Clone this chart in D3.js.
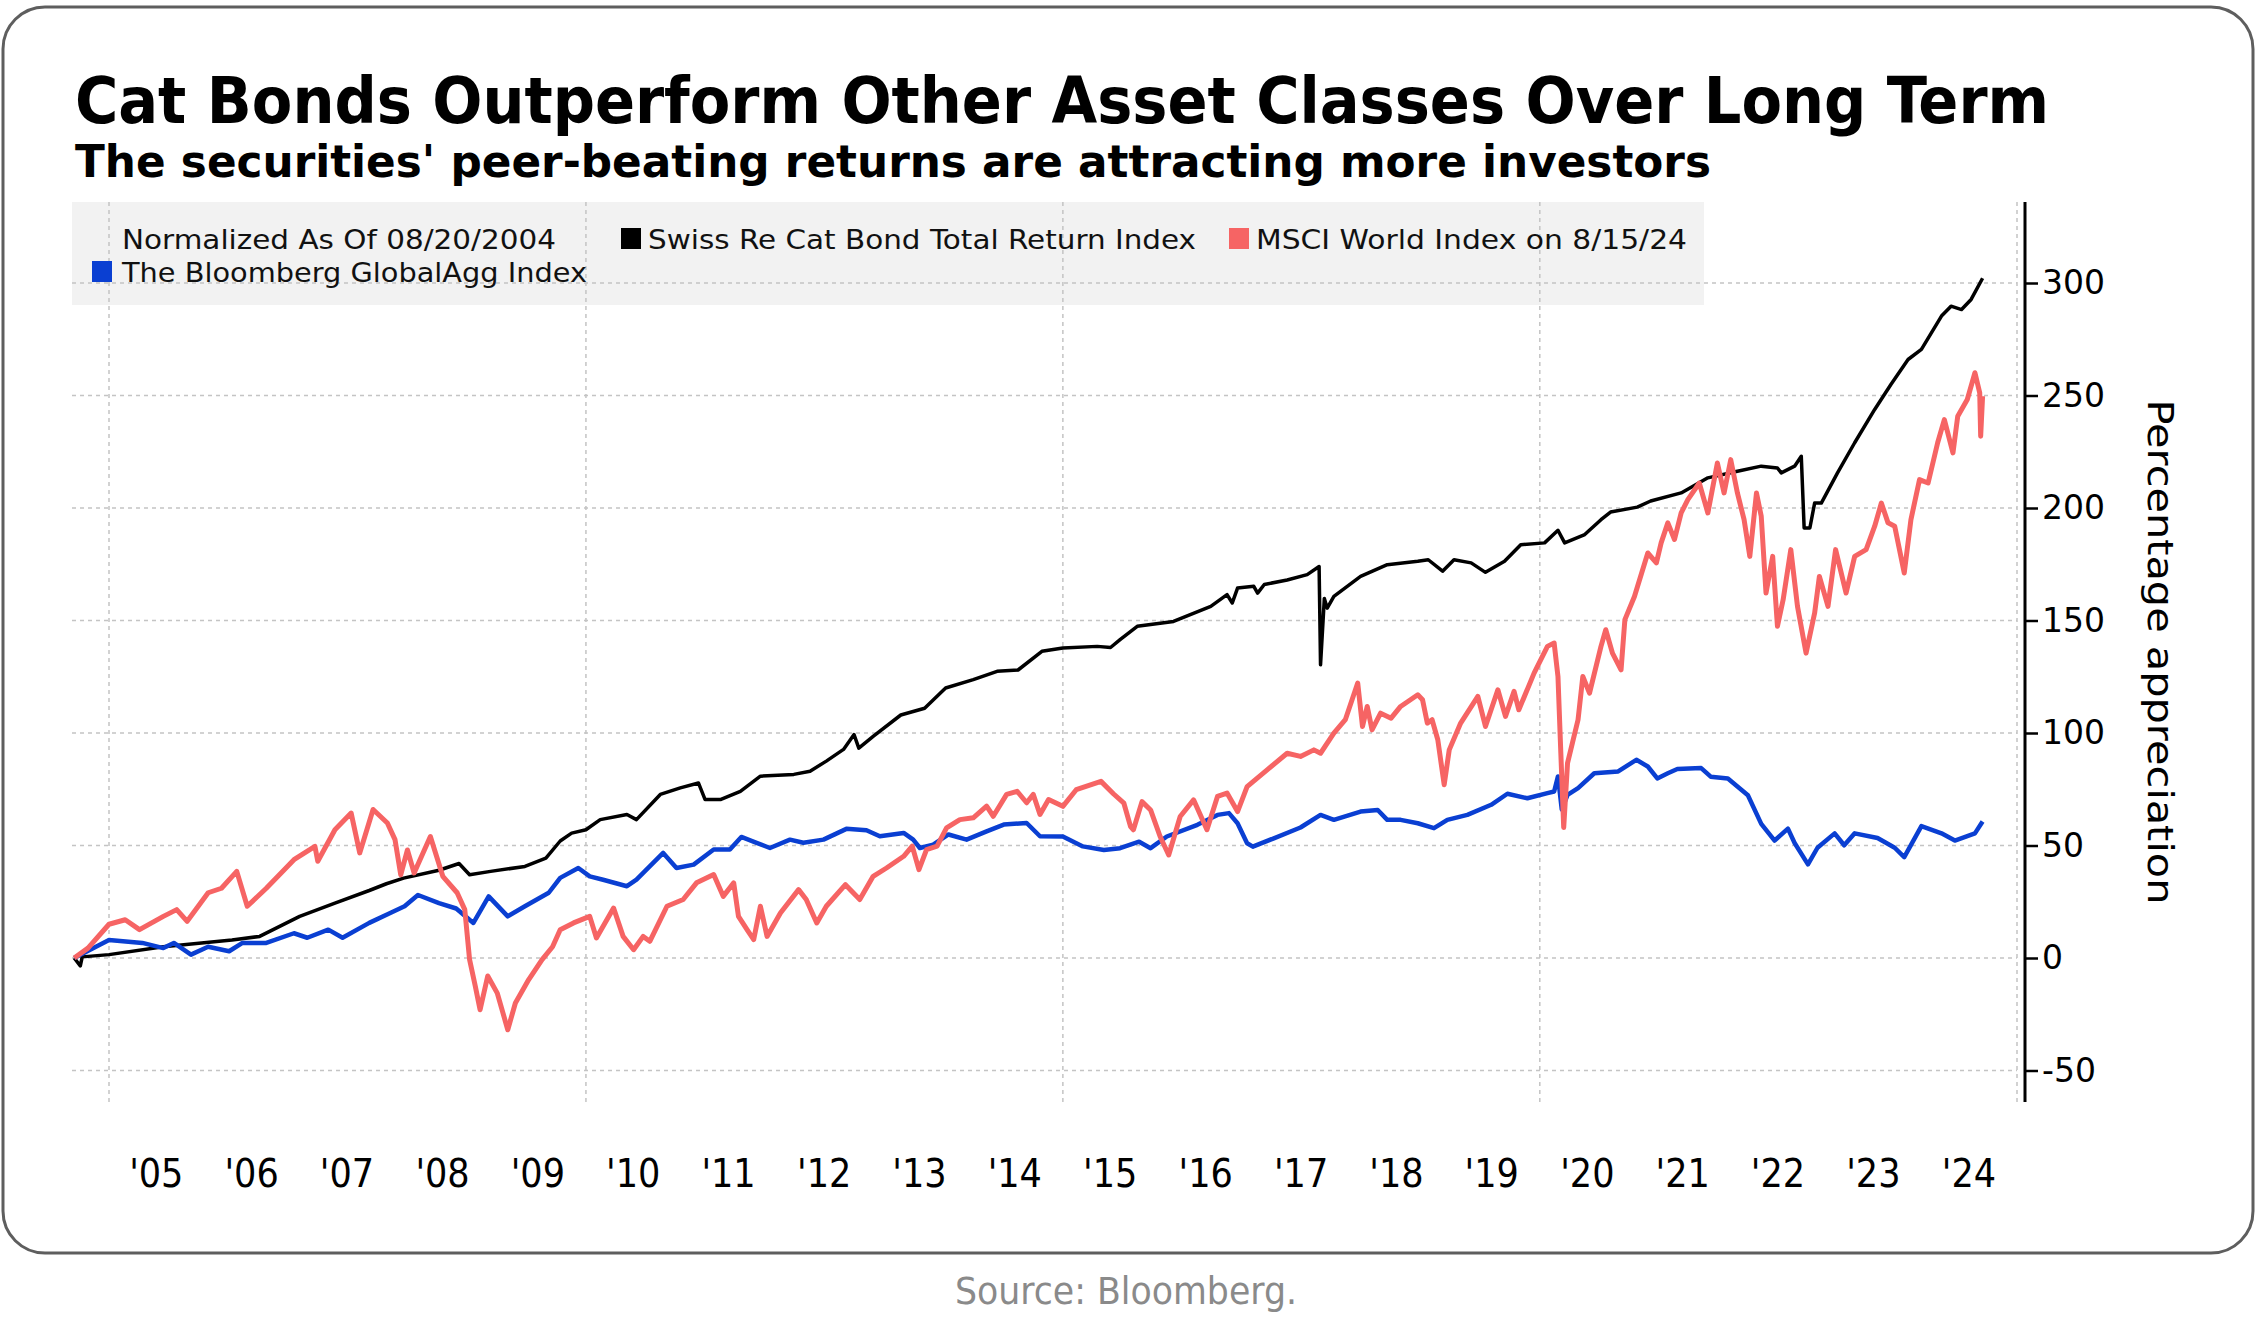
<!DOCTYPE html>
<html><head><meta charset="utf-8">
<script src="https://cdn.jsdelivr.net/npm/d3@7"></script>
<style>html,body{margin:0;padding:0;background:#fff;} svg{display:block;}</style>
</head><body>
<svg id="chart" width="2259" height="1342"></svg>
<script>
// ---------- DATA (decimal years, percentage appreciation) ----------
const swissReDates = [2004.636,2004.70,2004.72,2005.0,2005.57,2006.29,2006.58,2007.0,2007.37,2007.73,2007.91,2008.09,2008.46,2008.67,2008.78,2009.0,2009.36,2009.58,2009.73,2009.85,2010.0,2010.15,2010.43,2010.53,2010.78,2010.99,2011.18,2011.25,2011.41,2011.62,2011.83,2012.18,2012.35,2012.52,2012.70,2012.81,2012.86,2013.01,2013.30,2013.55,2013.77,2014.06,2014.31,2014.53,2014.78,2015.0,2015.36,2015.50,2015.6,2015.78,2016.16,2016.55,2016.72,2016.775,2016.83,2017.0,2017.04,2017.11,2017.35,2017.56,2017.685,2017.70,2017.74,2017.77,2017.84,2018.12,2018.40,2018.72,2018.83,2018.98,2019.10,2019.28,2019.43,2019.63,2019.80,2020.05,2020.19,2020.26,2020.47,2020.64,2020.74,2021.02,2021.16,2021.48,2021.76,2022.07,2022.32,2022.49,2022.53,2022.67,2022.74,2022.77,2022.83,2022.88,2022.95,2023.12,2023.30,2023.51,2023.68,2023.86,2024.0,2024.21,2024.31,2024.42,2024.52,2024.64];
const swissReValues = [0,-3.5,0.5,1.5,5,8,9.6,18.5,24.4,30,33,35.5,39,42,37,38.5,40.7,44.4,52,55.5,57,61.5,63.8,61.5,72.7,75.6,77.8,70.4,70.4,74.1,80.8,81.6,83,87.5,92.7,99.3,93.3,98.5,108,111,120,123.7,127.4,128,136.3,137.8,138.5,138,141.5,147.4,149.6,156.3,161.5,157.8,164.4,165.2,162.2,166,168,170.4,174,130.3,159.8,155.5,160.7,169.6,174.8,176.3,177,171.9,177,175.6,171.4,176.3,183.7,184.5,190.1,184.5,188.2,194.8,198.2,200.4,203.1,206.7,213.4,216.3,218.6,217.8,215.6,218.6,223,191.1,191.1,202.2,202.2,215.6,229,243.8,254.9,266,270.5,285.3,289.7,288.2,292.7,302.1];

const msciDates = [2004.636,2004.78,2005.0,2005.17,2005.32,2005.57,2005.71,2005.82,2006.04,2006.18,2006.34,2006.45,2006.65,2006.94,2007.16,2007.19,2007.37,2007.54,2007.63,2007.77,2007.92,2008.0,2008.06,2008.13,2008.2,2008.37,2008.5,2008.65,2008.73,2008.78,2008.84,2008.89,2008.97,2009.07,2009.18,2009.26,2009.40,2009.54,2009.65,2009.73,2009.87,2010.04,2010.11,2010.29,2010.39,2010.5,2010.6,2010.67,2010.85,2011.02,2011.16,2011.34,2011.44,2011.55,2011.6,2011.69,2011.76,2011.83,2011.9,2012.04,2012.23,2012.31,2012.42,2012.52,2012.72,2012.87,2013.01,2013.15,2013.33,2013.42,2013.49,2013.57,2013.68,2013.78,2013.92,2014.06,2014.2,2014.27,2014.41,2014.52,2014.62,2014.69,2014.76,2014.85,2015.0,2015.14,2015.40,2015.53,2015.64,2015.71,2015.74,2015.83,2015.92,2016.02,2016.11,2016.23,2016.37,2016.51,2016.62,2016.72,2016.83,2016.93,2017.14,2017.35,2017.49,2017.63,2017.7,2017.84,2017.96,2018.09,2018.14,2018.19,2018.24,2018.33,2018.44,2018.54,2018.72,2018.77,2018.82,2018.87,2018.93,2018.997,2019.05,2019.17,2019.35,2019.43,2019.56,2019.64,2019.73,2019.78,2019.94,2020.08,2020.15,2020.19,2020.22,2020.25,2020.29,2020.4,2020.45,2020.52,2020.64,2020.69,2020.76,2020.85,2020.89,2020.99,2021.13,2021.22,2021.27,2021.34,2021.41,2021.48,2021.55,2021.67,2021.76,2021.86,2021.93,2022.0,2022.07,2022.14,2022.2,2022.27,2022.32,2022.37,2022.44,2022.49,2022.55,2022.63,2022.7,2022.79,2022.88,2022.93,2023.02,2023.1,2023.21,2023.3,2023.42,2023.51,2023.58,2023.65,2023.72,2023.82,2023.89,2023.98,2024.07,2024.17,2024.24,2024.33,2024.38,2024.48,2024.56,2024.61,2024.62,2024.64];
const msciValues = [0,4.4,15,17,12.6,18.5,21.5,16.3,29,31,38.5,23,31,43.7,49.6,43,57,64.4,46.7,66,60,52.6,37,48,37.8,54,36.3,29,21.5,-0.7,-12.6,-23,-8,-15.6,-31.9,-20,-9.6,-0.7,5,12.6,15.6,18.5,8.9,22.2,9.6,3.7,9.6,7.4,23,26,33.4,37.1,27.4,33.4,18.5,12.6,8.2,23,9.6,20,30.4,26,15.6,23,32.6,26,36.3,40,45.2,49.7,39.3,48.2,49.7,57.8,61.5,62.3,67.5,63,72.7,74.1,69,72.7,63.8,70.4,67.4,74.8,78.5,73,68.8,58.4,57,69.5,65.8,54,45.8,62.9,70.3,57,71.8,73.3,65.1,76.2,83.6,91,89.6,92.5,91,99.9,105.9,122.2,102.9,111.8,101.4,108.8,106.6,111.8,117,114.8,104.4,105.9,97,77,92.5,104.4,116.3,102.9,119.2,107.4,118.5,110.3,126.6,138.5,140,125.1,91,58,86.6,105.9,125.1,117.7,138.5,145.9,135.5,128.1,150.4,160.7,180,175.6,184.5,193.4,186,197.8,203.7,211.1,197.8,220,206.7,221.5,206.7,194.8,178.5,206.7,196.3,162.2,178.5,147.4,159.3,181.5,156.3,135.5,153.3,169.6,156.3,181.5,162.2,178.5,181.5,191.9,202.2,193.4,191.9,171.1,194.8,212.6,211.1,229,239.3,224.5,240.8,248.2,260.1,251.2,231.9,249.7];

const globalAggDates = [2004.636,2005.0,2005.35,2005.57,2005.68,2005.86,2006.04,2006.26,2006.4,2006.65,2006.94,2007.08,2007.30,2007.45,2007.73,2007.95,2008.10,2008.24,2008.46,2008.64,2008.82,2008.98,2009.18,2009.36,2009.61,2009.73,2009.92,2010.04,2010.18,2010.43,2010.53,2010.81,2010.95,2011.13,2011.34,2011.51,2011.63,2011.79,2011.93,2012.14,2012.28,2012.49,2012.73,2012.94,2013.08,2013.33,2013.43,2013.5,2013.64,2013.8,2013.99,2014.2,2014.38,2014.62,2014.76,2015.0,2015.21,2015.43,2015.6,2015.8,2015.92,2016.09,2016.41,2016.62,2016.74,2016.83,2016.93,2016.99,2017.21,2017.49,2017.7,2017.84,2018.12,2018.3,2018.4,2018.54,2018.72,2018.89,2019.03,2019.24,2019.49,2019.66,2019.87,2020.08,2020.15,2020.19,2020.23,2020.29,2020.4,2020.57,2020.82,2021.01,2021.13,2021.23,2021.34,2021.44,2021.69,2021.79,2021.97,2022.18,2022.32,2022.46,2022.6,2022.67,2022.81,2022.91,2023.09,2023.19,2023.3,2023.54,2023.72,2023.82,2024.0,2024.21,2024.35,2024.56,2024.64];
const globalAggValues = [0,8,6.7,4.4,6.7,1.5,5,3,6.7,6.7,11,9,12.6,9,15.6,20,23,28,24.4,22,15.6,27.4,18.5,23,29,35.6,40,36.3,34.8,31.9,34.8,46.7,40,41.5,48.2,48.2,53.8,51.2,48.9,52.6,51.2,52.6,57.4,56.8,54.1,55.6,52.6,48.9,50.4,54.9,52.6,56.3,59.3,60,54.1,54,49.6,48,48.8,51.7,48.8,54,59.2,63.6,64.4,59.9,51,49.5,53.2,58,63.6,61.4,65.1,65.8,61.4,61.4,59.9,57.7,61.4,63.6,68.1,73,71,73.3,74,80.7,66,72.5,75.5,82.1,82.9,88.1,85.1,79.8,82.1,84,84.4,80.6,79.8,72.3,59.6,52.2,57.5,51.1,41.6,49,55.4,50.1,55.4,53.3,49,44.8,58.6,55.4,52.2,55.4,60.7];

const seriesNames = ["Swiss Re Cat Bond Total Return Index", "MSCI World Index on 8/15/24", "The Bloomberg GlobalAgg Index"];
const seriesColors = ["#000000", "#f66464", "#0a3fd2"];
const legendNote = "Normalized As Of 08/20/2004";
const yTickValues = [-50, 0, 50, 100, 150, 200, 250, 300];
const yMinorTickValues = [-25, 25, 75, 125, 175, 225, 275, 325];
const xTickYears = [2005,2006,2007,2008,2009,2010,2011,2012,2013,2014,2015,2016,2017,2018,2019,2020,2021,2022,2023,2024];
const xTickLabels = ["'05","'06","'07","'08","'09","'10","'11","'12","'13","'14","'15","'16","'17","'18","'19","'20","'21","'22","'23","'24"];
const xGridYears = [2005, 2010, 2015, 2020, 2025];
const titleText = "Cat Bonds Outperform Other Asset Classes Over Long Term";
const subtitleText = "The securities' peer-beating returns are attracting more investors";
const yAxisTitle = "Percentage appreciation";
const sourceText = "Source: Bloomberg.";

// ---------- helpers ----------
function toDate(y) {
  const yr = Math.floor(y);
  const s = new Date(yr, 0, 1), e = new Date(yr + 1, 0, 1);
  return new Date(+s + (y - yr) * (e - s));
}
function zip(dates, vals) { return dates.map((d, i) => ({ date: toDate(d), value: vals[i] })); }

const svg = d3.select("#chart");
const FONT = "'DejaVu Sans', Verdana, sans-serif";
const FONTC = "'DejaVu Sans Condensed', 'DejaVu Sans', sans-serif";

const plotTop = 202, plotBottom = 1102, axisX = 2025;
const x = d3.scaleTime().domain([new Date(2005, 0, 1), new Date(2025, 0, 1)]).range([109, 2017]);
const y = d3.scaleLinear().domain([-64, 336]).range([plotBottom, plotTop]);

// outer rounded frame
svg.append("rect").attr("x", 3).attr("y", 7).attr("width", 2250).attr("height", 1246)
  .attr("rx", 42).attr("fill", "#fff").attr("stroke", "#5e5e5e").attr("stroke-width", 3);

// title & subtitle
svg.append("text").attr("x", 75).attr("y", 123).text(titleText)
  .attr("font-family", FONTC).attr("font-weight", "bold").attr("font-size", 64)
  .attr("textLength", 1974).attr("lengthAdjust", "spacingAndGlyphs").attr("fill", "#000");
svg.append("text").attr("x", 75).attr("y", 177).text(subtitleText)
  .attr("font-family", FONTC).attr("font-weight", "bold").attr("font-size", 45)
  .attr("textLength", 1636).attr("lengthAdjust", "spacingAndGlyphs").attr("fill", "#000");

// legend background
svg.append("rect").attr("x", 72).attr("y", plotTop).attr("width", 1632).attr("height", 103).attr("fill", "#f2f2f2");

// gridlines
const grid = svg.append("g").attr("stroke", "#c4c4c4").attr("stroke-width", 1.5).attr("stroke-dasharray", "4,4");
grid.selectAll(".h").data(yTickValues).join("line")
  .attr("x1", 72).attr("x2", x(new Date(2025, 0, 1)))
  .attr("y1", d => y(d)).attr("y2", d => y(d));
grid.selectAll(".v").data(xGridYears).join("line")
  .attr("x1", d => x(new Date(d, 0, 1))).attr("x2", d => x(new Date(d, 0, 1)))
  .attr("y1", plotTop).attr("y2", plotBottom);

// legend content
const lg = svg.append("g").attr("font-family", FONT).attr("font-size", 27).attr("fill", "#111");
lg.append("text").attr("x", 122).attr("y", 249).text(legendNote).attr("textLength", 434).attr("lengthAdjust", "spacingAndGlyphs");
const legendItems = [
  { i: 0, sx: 621, tx: 648, ty: 249, w: 548 },
  { i: 1, sx: 1229, tx: 1256, ty: 249, w: 431 },
  { i: 2, sx: 92, tx: 122, ty: 282, w: 465 }
];
legendItems.forEach(it => {
  lg.append("rect").attr("x", it.sx).attr("y", it.ty - 21).attr("width", 20).attr("height", 21).attr("fill", seriesColors[it.i]);
  lg.append("text").attr("x", it.tx).attr("y", it.ty).text(seriesNames[it.i])
    .attr("textLength", it.w).attr("lengthAdjust", "spacingAndGlyphs");
});

// series lines
const line = d3.line().x(d => x(d.date)).y(d => y(d.value)).curve(d3.curveLinear);
const series = [
  { data: zip(swissReDates, swissReValues), color: seriesColors[0], w: 3.5 },
  { data: zip(globalAggDates, globalAggValues), color: seriesColors[2], w: 4.5 },
  { data: zip(msciDates, msciValues), color: seriesColors[1], w: 5 }
];
series.forEach(s => {
  svg.append("path").datum(s.data).attr("d", line).attr("fill", "none")
    .attr("stroke", s.color).attr("stroke-width", s.w).attr("stroke-linejoin", "round");
});

// y axis (right)
const yAxisG = svg.append("g").attr("transform", `translate(${axisX},0)`);
yAxisG.call(d3.axisRight(y).tickValues(yMinorTickValues).tickSize(8).tickFormat(""));
yAxisG.call(d3.axisRight(y).tickValues(yTickValues).tickSize(13).tickPadding(4).tickFormat(d => String(d)));
yAxisG.selectAll(".domain").remove();
yAxisG.selectAll("line").attr("stroke", "#000").attr("stroke-width", 2.5);
yAxisG.selectAll("text").attr("font-family", FONT).attr("font-size", 33).attr("fill", "#000");
svg.append("line").attr("x1", axisX).attr("x2", axisX).attr("y1", plotTop).attr("y2", plotBottom)
  .attr("stroke", "#000").attr("stroke-width", 3);

// y axis title
svg.append("text").attr("transform", `translate(2148,652) rotate(90)`).attr("text-anchor", "middle")
  .attr("font-family", FONT).attr("font-size", 36).attr("fill", "#000").text(yAxisTitle)
  .attr("textLength", 505).attr("lengthAdjust", "spacingAndGlyphs");

// x labels (mid-year)
svg.append("g").selectAll("text").data(xTickYears).join("text")
  .attr("x", d => x(new Date(d, 6, 1))).attr("y", 1187).attr("text-anchor", "middle")
  .attr("font-family", FONTC).attr("font-size", 39).attr("fill", "#000")
  .text((d, i) => xTickLabels[i]);

// source
svg.append("text").attr("x", 1126).attr("y", 1304).attr("text-anchor", "middle")
  .attr("font-family", FONTC).attr("font-size", 37).attr("fill", "#8a8a8a").text(sourceText)
  .attr("textLength", 342).attr("lengthAdjust", "spacingAndGlyphs");
</script>
</body></html>
